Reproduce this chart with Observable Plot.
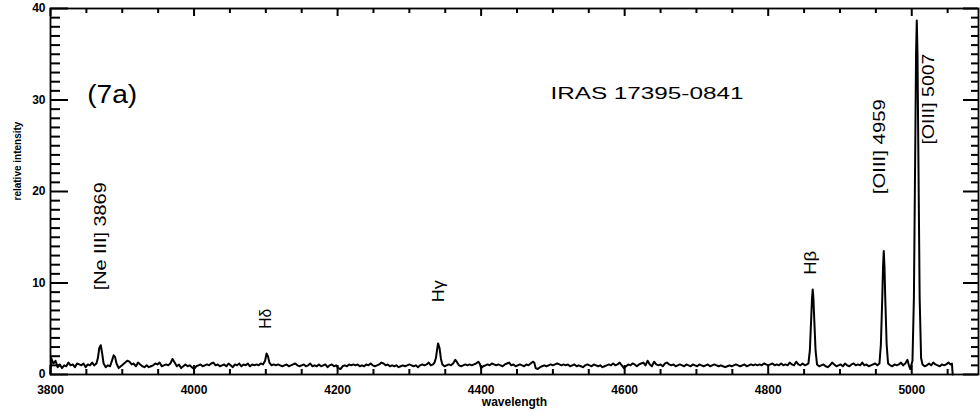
<!DOCTYPE html>
<html>
<head>
<meta charset="utf-8">
<script src="https://cdn.jsdelivr.net/npm/d3@7"></script>
<script src="https://cdn.jsdelivr.net/npm/@observablehq/plot@0.6"></script>
<style>
  html, body { margin: 0; padding: 0; background: #fff; }
  svg { display: block; }
</style>
</head>
<body>
<div id="chart"></div>
<script>
// ---- Data (IRAS 17395-0841) ----
const wavelength = [
  3800,3801,3804,3807,3810,3813,3816,3819,3822,3825,
  3828,3831,3834,3837,3840,3843,3846,3849,3852,3855,
  3858,3861,3864,3866,3868,3870,3872,3874,3877,3880,
  3883,3886,3888,3890,3892,3895,3898,3901,3904,3907,
  3910,3913,3916,3919,3922,3925,3928,3931,3934,3937,
  3940,3943,3946,3949,3952,3955,3958,3961,3964,3967,
  3970,3973,3976,3979,3982,3985,3988,3991,3994,3997,
  4000,4003,4006,4009,4012,4015,4018,4021,4024,4027,
  4030,4033,4036,4039,4042,4045,4048,4051,4054,4057,
  4060,4063,4066,4069,4072,4075,4078,4081,4084,4087,
  4090,4093,4096,4099,4101,4103,4105,4108,4111,4114,
  4117,4120,4123,4126,4129,4132,4135,4138,4141,4144,
  4147,4150,4153,4156,4159,4162,4165,4168,4171,4174,
  4177,4180,4183,4186,4189,4192,4195,4198,4201,4204,
  4207,4210,4213,4216,4219,4222,4225,4228,4231,4234,
  4237,4240,4243,4246,4249,4252,4255,4258,4261,4264,
  4267,4270,4273,4276,4279,4282,4285,4288,4291,4294,
  4297,4300,4303,4306,4309,4312,4315,4318,4321,4324,
  4327,4330,4333,4335,4337,4339,4340,4342,4344,4346,
  4349,4352,4355,4358,4361,4364,4366,4369,4372,4375,
  4378,4381,4384,4387,4390,4393,4396,4398,4400,4403,
  4406,4409,4412,4415,4418,4421,4424,4427,4430,4433,
  4436,4439,4442,4445,4448,4451,4454,4457,4460,4463,
  4466,4469,4472,4474,4476,4479,4482,4485,4488,4491,
  4494,4497,4500,4503,4506,4509,4512,4515,4518,4521,
  4524,4527,4530,4533,4536,4539,4542,4545,4548,4551,
  4554,4557,4560,4563,4566,4569,4572,4575,4578,4581,
  4584,4587,4590,4593,4596,4599,4602,4605,4608,4611,
  4614,4617,4620,4623,4626,4629,4632,4635,4638,4641,
  4644,4647,4650,4653,4656,4659,4662,4665,4668,4671,
  4674,4677,4680,4683,4686,4689,4692,4695,4698,4701,
  4704,4707,4710,4713,4716,4719,4722,4725,4728,4731,
  4734,4737,4740,4743,4746,4749,4752,4755,4758,4761,
  4764,4767,4770,4773,4776,4779,4782,4785,4788,4791,
  4794,4797,4800,4803,4806,4809,4812,4815,4818,4821,
  4824,4827,4830,4833,4836,4839,4842,4845,4848,4851,
  4854,4856,4858,4860,4861,4862,4863,4864,4866,4868,
  4871,4874,4877,4880,4883,4886,4889,4892,4895,4898,
  4901,4904,4907,4910,4913,4916,4919,4922,4925,4928,
  4931,4934,4937,4940,4943,4946,4949,4952,4955,4957,
  4959,4960,4961,4962,4963,4965,4967,4970,4973,4976,
  4979,4982,4985,4988,4991,4994,4996,4998,5001,5003,
  5005,5006,5007,5008,5009,5011,5013,5015,5018,5021,
  5024,5027,5030,5033,5036,5039,5042,5045,5048,5051,
  5054,5056,5057
];
const intensity = [
  0.1,1.8,1.2,1.5,0.8,1.1,0.7,1.0,0.9,1.3,
  1.0,1.1,0.8,1.2,1.1,1.0,1.2,0.8,1.1,1.0,
  1.3,1.0,1.2,1.8,2.9,3.2,2.3,1.2,0.8,1.0,
  0.9,1.6,2.1,1.9,1.2,0.7,0.9,1.1,1.3,1.5,
  1.4,1.1,1.2,0.9,1.3,1.1,0.9,0.8,1.0,0.8,
  0.9,1.0,1.2,1.1,1.3,0.9,1.0,1.1,1.0,1.2,
  1.7,1.3,0.9,1.1,0.7,0.9,1.1,0.9,1.0,0.8,
  0.6,0.9,1.0,1.1,0.9,1.0,1.1,1.0,1.2,1.3,
  1.0,1.1,0.9,1.0,1.1,0.9,1.2,1.0,0.8,1.1,
  1.0,1.2,0.9,1.1,1.0,1.2,0.9,1.1,1.0,1.1,
  1.0,1.2,1.1,1.5,2.3,2.0,1.3,1.0,1.1,1.0,
  1.1,1.0,0.9,1.0,1.1,0.9,1.0,1.1,1.2,1.0,
  0.9,1.0,1.1,0.9,1.0,1.2,0.9,1.0,0.9,1.1,
  0.9,1.0,1.1,0.8,1.0,1.1,0.9,1.0,0.7,0.6,
  0.9,1.0,0.9,1.1,1.0,1.1,1.0,1.1,0.9,1.0,
  0.9,1.1,1.0,1.2,1.0,0.9,1.0,1.1,1.3,1.2,
  1.0,1.1,0.9,1.0,0.9,1.0,0.8,0.9,1.0,0.9,
  1.0,1.1,1.0,0.9,1.0,0.8,1.0,1.1,1.0,1.1,
  1.3,1.0,1.1,1.3,1.8,2.9,3.4,2.9,1.7,1.1,
  0.9,1.0,1.1,1.0,1.2,1.6,1.4,1.0,0.9,1.0,
  1.1,1.0,1.1,1.0,1.1,1.2,1.4,1.2,0.7,0.9,
  1.0,1.1,1.0,1.2,1.1,1.0,1.1,1.0,0.9,1.1,
  1.2,1.3,1.0,1.1,0.9,1.0,1.1,1.0,0.9,1.1,
  1.0,1.2,1.4,1.3,0.7,0.6,0.8,0.9,1.0,0.9,
  1.0,1.1,1.0,1.1,1.2,1.1,1.0,1.1,1.0,1.1,
  0.9,1.0,1.1,0.9,1.0,0.9,0.8,1.0,1.1,1.0,
  0.9,1.1,1.0,0.9,1.0,0.8,0.9,1.0,1.1,1.0,
  1.2,1.0,1.1,1.3,1.0,0.7,0.9,1.1,1.0,1.2,
  1.1,0.9,1.1,1.2,1.3,1.0,1.5,1.1,0.9,1.4,
  1.1,1.0,1.1,0.9,1.2,1.3,1.1,1.0,1.1,0.9,
  1.0,1.1,1.0,0.9,1.1,1.0,0.9,1.1,1.0,0.9,
  1.1,1.0,0.9,1.0,1.1,0.9,1.0,1.1,1.0,0.9,
  1.0,0.9,0.8,0.9,1.0,0.9,1.0,1.1,1.0,0.9,
  1.0,1.1,0.9,1.0,1.1,1.0,1.1,1.0,1.1,1.0,
  1.2,1.1,1.0,1.1,1.2,1.0,1.1,1.0,1.2,1.0,
  1.1,1.0,1.3,1.1,1.0,1.4,1.1,1.0,1.2,1.0,
  1.1,1.2,2.6,6.3,8.3,9.3,8.3,6.3,2.6,1.1,
  0.9,1.0,1.1,0.9,0.8,1.0,1.3,1.1,0.9,1.0,
  1.1,0.9,1.2,1.0,0.9,1.1,1.2,1.0,1.1,1.0,
  1.3,1.0,1.1,0.9,1.0,1.1,1.2,1.0,1.2,3.3,
  8.6,11.8,13.5,11.8,8.6,3.3,1.2,1.0,0.9,1.1,
  1.0,1.1,1.3,1.0,1.2,1.6,1.0,0.6,1.5,8.4,
  25.9,35.0,38.7,35.0,25.9,8.4,1.8,1.1,0.9,1.0,
  1.2,1.0,1.3,1.1,1.0,0.9,1.1,1.0,1.1,1.3,
  1.1,1.2,0.0
];

// Axis tick labels
const xTickLabels = [3800, 4000, 4200, 4400, 4600, 4800, 5000];
const yTickLabels = [0, 10, 20, 30, 40];

// Annotations (text, anchor wavelength, anchor intensity)
const titleText  = ["(7a)", "IRAS 17395-0841"];
const titleWave  = [3886, 4631];
const titleLevel = [30.5, 30.7];

const lineLabels = ["[Ne III] 3869", "Hδ", "Hγ", "Hβ", "[OIII] 4959", "[OIII] 5007"];
const lineWave   = [3870, 4100, 4341, 4859, 4955, 5024];
const lineLevel  = [15.1, 6.1, 9.1, 12.2, 24.9, 30.1];

// ---- Rendering ----
const X0 = 3800, X1 = 5093, Y0 = 0, Y1 = 40;
const W = 980, H = 416, ML = 50, MR = 2, MT = 8, MB = 42;
const FW = W - ML - MR, FH = H - MT - MB;   // frame size in px

const xMinor = d3.range(3850, X1, 50).filter(v => !xTickLabels.includes(v));
const yMinor = d3.range(1, 40, 1).filter(v => !yTickLabels.includes(v));

const textLengths = {
  "(7a)": 50, "IRAS 17395-0841": 193,
  "[Ne III] 3869": 108, "Hδ": 20, "Hγ": 22, "Hβ": 24,
  "[OIII] 4959": 95, "[OIII] 5007": 91
};

// tick lengths in px (bottom/top/left/right, minor/major)
const TL = {bm: 5, bM: 9, tm: 5, tM: 8, lm: 10, lM: 18, rm: 7, rM: 15};
const TW = 2;

const ink = "#000";
const chart = Plot.plot({
  width: W, height: H,
  marginLeft: ML, marginRight: MR, marginTop: MT, marginBottom: MB,
  style: {fontFamily: "'Liberation Sans', Arial, Helvetica, sans-serif", background: "#fff", color: ink},
  x: {domain: [X0, X1]},
  y: {domain: [Y0, Y1]},
  marks: [
    Plot.line(wavelength, {x: wavelength, y: intensity, stroke: ink, strokeWidth: 2}),
    Plot.frame({stroke: ink, strokeWidth: 1.8}),
    Plot.axisX(xTickLabels, {tickSize: 0, tickPadding: 11, tickFormat: d => String(d), fontSize: 12, fontWeight: "bold", label: null}),
    Plot.axisY(yTickLabels, {tickSize: 0, tickPadding: 5, tickFormat: d => String(d), fontSize: 12, fontWeight: "bold", label: null}),
    Plot.text(["wavelength"], {frameAnchor: "bottom", dy: 31, fontSize: 12, fontWeight: "bold", fill: ink}),
    Plot.text(["relative intensity"], {frameAnchor: "left", rotate: -90, dx: -33, dy: 9, fontSize: 10, fontWeight: "bold", fill: ink}),
    Plot.text(titleText, {x: titleWave, y: titleLevel, text: d => d, fontSize: (d) => d === "(7a)" ? 25 : 16, fill: ink}),
    Plot.text(lineLabels, {x: lineWave, y: lineLevel, text: d => d, rotate: -90, fontSize: 17, fill: ink}),
    Plot.tickX(xMinor, {x: d => d, insetTop: FH - TL.bm, stroke: ink, strokeWidth: TW}),
    Plot.tickX(xTickLabels, {x: d => d, insetTop: FH - TL.bM, stroke: ink, strokeWidth: TW}),
    Plot.tickX(xMinor, {x: d => d, insetBottom: FH - TL.tm, stroke: ink, strokeWidth: TW}),
    Plot.tickX(xTickLabels, {x: d => d, insetBottom: FH - TL.tM, stroke: ink, strokeWidth: TW}),
    Plot.tickY(yMinor, {y: d => d, insetRight: FW - TL.lm, stroke: ink, strokeWidth: TW}),
    Plot.tickY(yTickLabels, {y: d => d, insetRight: FW - TL.lM, stroke: ink, strokeWidth: TW}),
    Plot.tickY(yMinor, {y: d => d, insetLeft: FW - TL.rm, stroke: ink, strokeWidth: TW}),
    Plot.tickY(yTickLabels, {y: d => d, insetLeft: FW - TL.rM, stroke: ink, strokeWidth: TW})
  ]
});

d3.select(chart).selectAll("text").each(function () {
  const t = this.textContent;
  if (Object.prototype.hasOwnProperty.call(textLengths, t)) {
    this.setAttribute("textLength", textLengths[t]);
    this.setAttribute("lengthAdjust", "spacingAndGlyphs");
  }
});

document.getElementById("chart").appendChild(chart);
</script>
</body>
</html>
